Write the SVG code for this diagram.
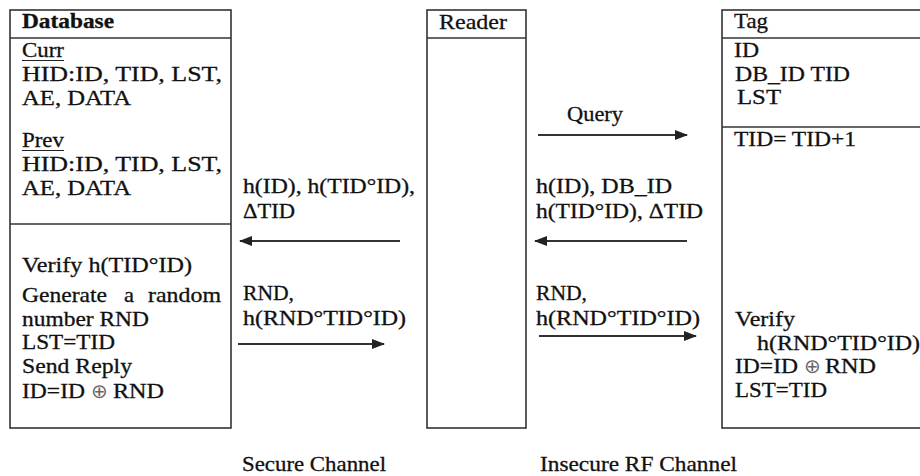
<svg xmlns="http://www.w3.org/2000/svg" width="920" height="476" viewBox="0 0 920 476">
  <style>
    .box { fill: #ffffff; stroke: #333333; stroke-width: 1.6; }
    .sep { stroke: #333333; stroke-width: 1.6; }
    .b { font-weight: bold; }
    .ul { stroke: #222222; stroke-width: 1.2; }
    .msg { stroke: #333333; stroke-width: 2; fill: none; marker-end: url(#head); }
    .xor { font-family: 'DejaVu Sans', sans-serif; font-size: 20px; fill: #666666; stroke: none; }
  </style>
  <defs>
    <marker id="head" markerUnits="userSpaceOnUse" markerWidth="13" markerHeight="10" refX="12" refY="5" orient="auto">
      <path d="M0,0 L13,5 L0,10 Z" fill="#222222"/>
    </marker>
  </defs>
  <rect width="920" height="476" fill="#ffffff"/>

  <g font-family="Liberation Serif" font-size="21" fill="#111111">
  <!-- Database -->
  <g id="database">
    <rect class="box" x="10" y="10" width="221" height="418"/>
    <line class="sep" x1="10" y1="38" x2="231" y2="38"/>
    <line class="sep" x1="10" y1="224" x2="231" y2="224"/>
    <g stroke="#111111" stroke-width="0.3">
      <text class="b" x="22" y="28" textLength="92" lengthAdjust="spacingAndGlyphs">Database</text>
      <text x="22" y="57" textLength="42" lengthAdjust="spacingAndGlyphs">Curr</text>
      <text x="22" y="81" textLength="200" lengthAdjust="spacingAndGlyphs">HID:ID,  TID,   LST,</text>
      <text x="22" y="105" textLength="109" lengthAdjust="spacingAndGlyphs">AE, DATA</text>
      <text x="22" y="147" textLength="42" lengthAdjust="spacingAndGlyphs">Prev</text>
      <text x="22" y="171" textLength="200" lengthAdjust="spacingAndGlyphs">HID:ID,  TID,   LST,</text>
      <text x="22" y="195" textLength="109" lengthAdjust="spacingAndGlyphs">AE, DATA</text>
      <text x="22" y="272" textLength="170" lengthAdjust="spacingAndGlyphs">Verify h(TID°ID)</text>
      <text x="22" y="302" textLength="85" lengthAdjust="spacingAndGlyphs">Generate</text>
      <text x="124" y="302" textLength="10" lengthAdjust="spacingAndGlyphs">a</text>
      <text x="148" y="302" textLength="73" lengthAdjust="spacingAndGlyphs">random</text>
      <text x="22" y="326" textLength="127" lengthAdjust="spacingAndGlyphs">number RND</text>
      <text x="22" y="349" textLength="93" lengthAdjust="spacingAndGlyphs">LST=TID</text>
      <text x="22" y="373" textLength="110" lengthAdjust="spacingAndGlyphs">Send Reply</text>
      <text x="22" y="398" textLength="63" lengthAdjust="spacingAndGlyphs">ID=ID</text>
      <text class="xor" x="91" y="398">⊕</text>
      <text x="113" y="398" textLength="51" lengthAdjust="spacingAndGlyphs">RND</text>
    </g>
    <line class="ul" x1="22" y1="60.5" x2="64" y2="60.5"/>
    <line class="ul" x1="22" y1="150.5" x2="64" y2="150.5"/>
  </g>

  <!-- Reader -->
  <g id="reader">
    <rect class="box" x="427" y="10" width="99" height="418"/>
    <line class="sep" x1="427" y1="38" x2="526" y2="38"/>
    <text x="439" y="29" textLength="68" lengthAdjust="spacingAndGlyphs" stroke="#111111" stroke-width="0.3">Reader</text>
  </g>

  <!-- Tag -->
  <g id="tag">
    <rect class="box" x="722" y="10" width="210" height="418"/>
    <line class="sep" x1="722" y1="38" x2="932" y2="38"/>
    <line class="sep" x1="722" y1="127" x2="932" y2="127"/>
    <g stroke="#111111" stroke-width="0.3">
      <text x="734" y="28" textLength="34" lengthAdjust="spacingAndGlyphs">Tag</text>
      <text x="734" y="57" textLength="25" lengthAdjust="spacingAndGlyphs">ID</text>
      <text x="735" y="81" textLength="115" lengthAdjust="spacingAndGlyphs">DB_ID TID</text>
      <text x="737" y="104" textLength="44" lengthAdjust="spacingAndGlyphs">LST</text>
      <text x="734" y="146" textLength="122" lengthAdjust="spacingAndGlyphs">TID= TID+1</text>
      <text x="735" y="326" textLength="60" lengthAdjust="spacingAndGlyphs">Verify</text>
      <text x="757" y="350" textLength="163" lengthAdjust="spacingAndGlyphs">h(RND°TID°ID)</text>
      <text x="735" y="373" textLength="63" lengthAdjust="spacingAndGlyphs">ID=ID</text>
      <text class="xor" x="804" y="373">⊕</text>
      <text x="825" y="373" textLength="51" lengthAdjust="spacingAndGlyphs">RND</text>
      <text x="735" y="397" textLength="92" lengthAdjust="spacingAndGlyphs">LST=TID</text>
    </g>
  </g>

  <!-- Messages between the parties -->
  <g id="connectors">
    <line class="msg" x1="538" y1="135" x2="687" y2="135"/>
    <line class="msg" x1="400" y1="241" x2="240" y2="241"/>
    <line class="msg" x1="238" y1="344" x2="384" y2="344"/>
    <line class="msg" x1="687" y1="241" x2="535" y2="241"/>
    <line class="msg" x1="539" y1="336" x2="696" y2="336"/>
    <g stroke="#111111" stroke-width="0.3">
      <text x="567" y="121" textLength="56" lengthAdjust="spacingAndGlyphs">Query</text>
      <text x="243" y="193" textLength="172" lengthAdjust="spacingAndGlyphs">h(ID), h(TID°ID),</text>
      <text x="243" y="218" textLength="52" lengthAdjust="spacingAndGlyphs">ΔTID</text>
      <text x="243" y="300" textLength="51" lengthAdjust="spacingAndGlyphs">RND,</text>
      <text x="243" y="325" textLength="163" lengthAdjust="spacingAndGlyphs">h(RND°TID°ID)</text>
      <text x="536" y="193" textLength="136" lengthAdjust="spacingAndGlyphs">h(ID), DB_ID</text>
      <text x="536" y="218" textLength="167" lengthAdjust="spacingAndGlyphs">h(TID°ID), ΔTID</text>
      <text x="536" y="300" textLength="51" lengthAdjust="spacingAndGlyphs">RND,</text>
      <text x="536" y="325" textLength="164" lengthAdjust="spacingAndGlyphs">h(RND°TID°ID)</text>
    </g>
  </g>

  <!-- Channel captions -->
  <g stroke="#111111" stroke-width="0.3">
    <text x="242" y="471" textLength="144" lengthAdjust="spacingAndGlyphs">Secure Channel</text>
    <text x="540" y="471" textLength="197" lengthAdjust="spacingAndGlyphs">Insecure RF Channel</text>
  </g>
  </g>
</svg>
